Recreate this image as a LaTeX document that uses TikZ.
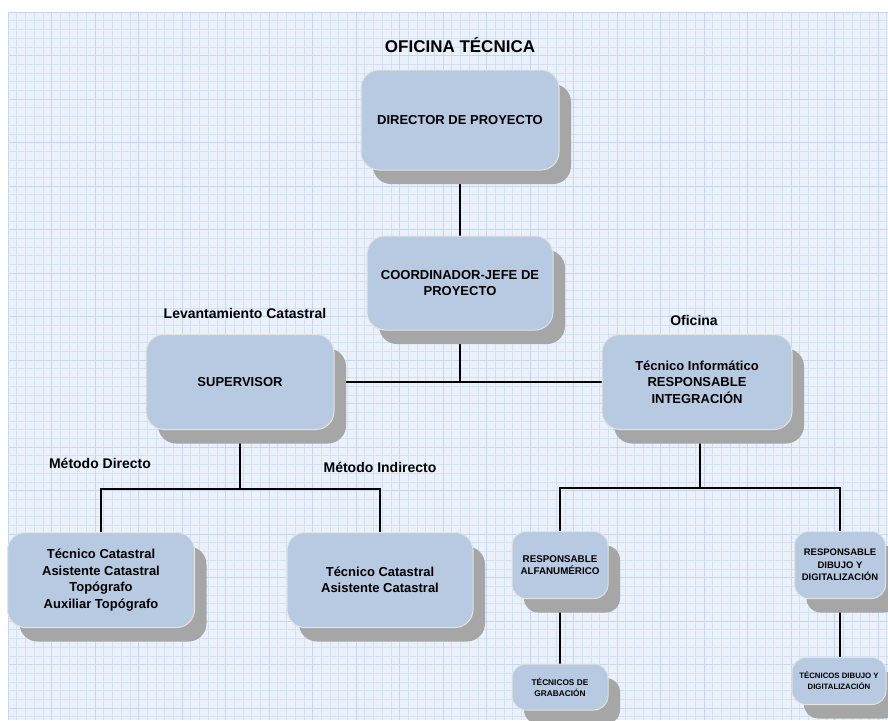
\documentclass[tikz,border=0pt]{standalone}
\usepackage{fontspec}
\setmainfont{Liberation Sans}
\usetikzlibrary{shadows}
\pgfdeclarelayer{gridlayer}
\pgfdeclarelayer{background}
\pgfsetlayers{gridlayer,background,main}
\definecolor{boxfill}{RGB}{184,201,226}
\definecolor{boxline}{RGB}{226,228,222}
\definecolor{shadowgray}{RGB}{166,166,166}
\definecolor{gridbg}{RGB}{234,241,250}
\definecolor{gridline}{RGB}{212,225,243}
\definecolor{gridmajor}{RGB}{198,214,238}
\tikzset{
  orgbox/.style={draw=boxline, line width=1pt, fill=boxfill, rounded corners=18pt,
    align=center, font=\bfseries\fontsize{13}{16.5}\selectfont, inner sep=2pt,
    general shadow={shadow xshift=12pt, shadow yshift=-14pt, fill=shadowgray}},
  smallbox/.style={orgbox, rounded corners=14pt, font=\bfseries\fontsize{9.8}{12.5}\selectfont},
  tinybox/.style={orgbox, rounded corners=14pt, font=\bfseries\fontsize{8.3}{11}\selectfont},
  grouplabel/.style={font=\bfseries\fontsize{14}{16}\selectfont},
  link/.style={draw=black, line width=1.5pt},
  gridminor/.style={draw=gridline, line width=0.6pt},
  gridmaj/.style={draw=gridmajor, line width=0.8pt}
}
\begin{document}
\begin{tikzpicture}[x=1pt,y=-1pt]
\useasboundingbox (0,0) rectangle (888,720);
\begin{pgfonlayer}{gridlayer}
  \fill[white] (0,0) rectangle (888,720);
  \fill[gridbg] (8,12) rectangle (888,720);
  \foreach \i in {0,...,101} {
    \draw[gridminor] ({8+8.7*\i},12) -- ({8+8.7*\i},720);
  }
  \foreach \j in {0,...,81} {
    \draw[gridminor] (8,{12+8.7*\j}) -- (888,{12+8.7*\j});
  }
  \foreach \i in {0,...,20} {
    \draw[gridmaj] ({8+43.5*\i},12) -- ({8+43.5*\i},720);
  }
  \foreach \j in {0,...,16} {
    \draw[gridmaj] (8,{12+43.5*\j}) -- (888,{12+43.5*\j});
  }
\end{pgfonlayer}

\node[font=\bfseries\fontsize{17}{20}\selectfont] (title) at (460,45) {OFICINA TÉCNICA};

\node[orgbox, minimum width=198pt, minimum height=100pt] (dir) at (460,120) {DIRECTOR DE PROYECTO};
\node[orgbox, minimum width=186pt, minimum height=94pt] (coord) at (460,283) {COORDINADOR-JEFE DE\\PROYECTO};
\node[orgbox, minimum width=188pt, minimum height=95pt] (sup) at (240,382) {SUPERVISOR};
\node[orgbox, minimum width=190pt, minimum height=95pt] (tinf) at (697,382) {Técnico Informático\\RESPONSABLE\\INTEGRACIÓN};
\node[orgbox, minimum width=187pt, minimum height=95pt] (lb) at (101,580) {Técnico Catastral\\Asistente Catastral\\Topógrafo\\Auxiliar Topógrafo};
\node[orgbox, minimum width=186pt, minimum height=95pt] (mb) at (380,580) {Técnico Catastral\\Asistente Catastral};
\node[smallbox, minimum width=96pt, minimum height=67pt] (ra) at (560,565) {RESPONSABLE\\ALFANUMÉRICO};
\node[tinybox, minimum width=96pt, minimum height=46pt] (tg) at (560,687) {TÉCNICOS DE\\GRABACIÓN};
\node[smallbox, font=\bfseries\fontsize{9.5}{12.5}\selectfont, minimum width=91pt, minimum height=67pt] (rd) at (840,565) {RESPONSABLE\\DIBUJO Y\\DIGITALIZACIÓN};
\node[tinybox, font=\bfseries\fontsize{7.8}{11}\selectfont, minimum width=94pt, minimum height=47pt] (td) at (839,681) {TÉCNICOS DIBUJO Y\\DIGITALIZACIÓN};

\node[grouplabel] (lev) at (245,313) {Levantamiento Catastral};
\node[grouplabel] (ofi) at (694,320) {Oficina};
\node[grouplabel] (mdir) at (100,463) {Método Directo};
\node[grouplabel] (mind) at (380,467) {Método Indirecto};

\coordinate (s1) at (240,489);
\coordinate (t1) at (700,488);

\begin{pgfonlayer}{background}
  \draw[link] (dir.south) -- (coord.north);
  \draw[link] (coord.south) -- (coord.south |- sup.east);
  \draw[link] (sup.east) -- (tinf.west);
  \draw[link] (sup.south) -- (s1);
  \draw[link] (lb.north) |- (s1) -| (mb.north);
  \draw[link] (t1 |- tinf.south) -- (t1);
  \draw[link] (ra.north) |- (t1) -| (rd.north);
  \draw[link] (ra.south) -- (tg.north);
  \draw[link] (rd.south) -- (rd.south |- td.north);
\end{pgfonlayer}
\end{tikzpicture}
\end{document}
